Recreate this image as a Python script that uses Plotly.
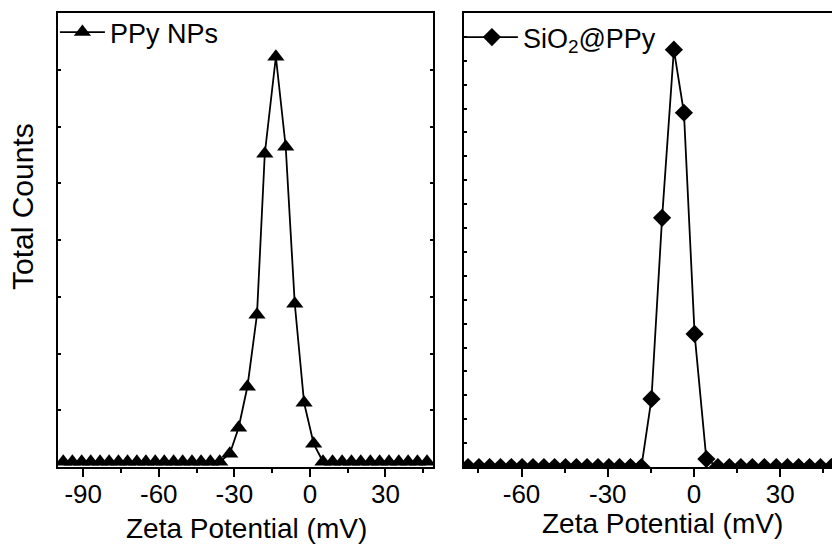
import plotly.graph_objects as go

# ---- data ----
ppy_x = [-97.9, -94.3, -90.6, -87.0, -83.3, -79.7, -76.0, -72.4, -68.7, -65.1,
         -61.4, -57.8, -54.1, -50.5, -46.8, -43.2, -39.5, -35.8,
         -31.8, -28.3, -24.8, -21.0, -17.9, -13.5, -9.6, -6.0, -2.3, 1.5, 5.2,
         9.0, 12.8, 16.5, 20.2, 24.0, 27.7, 31.4, 35.3, 39.0, 42.7, 46.5]
ppy_y = [0, 0, 0, 0, 0, 0, 0, 0, 0, 0,
         0, 0, 0, 0, 0, 0, 0, 0,
         8, 34, 75, 147, 308, 405, 315, 158, 59, 18, 0,
         0, 0, 0, 0, 0, 0, 0, 0, 0, 0, 0]

sio2_x = [-78.6, -74.8, -71.1, -67.3, -63.5, -59.8, -56.0, -52.2, -48.5, -44.7,
          -40.9, -37.2, -33.4, -29.6, -25.9, -22.1, -18.3,
          -14.8, -11.1, -7.0, -3.5, 0.2, 4.3,
          8.3, 12.3, 16.3, 20.3, 24.5, 28.6, 32.5, 36.4, 40.2, 44.0, 47.8]
sio2_y = [0, 0, 0, 0, 0, 0, 0, 0, 0, 0,
          0, 0, 0, 0, 0, 0, 0,
          68, 249, 417, 354, 133, 8,
          0, 0, 0, 0, 0, 0, 0, 0, 0, 0, 0]

x_ticks = [-90, -60, -30, 0, 30]
x_ticktext = ["-90", "-60", "-30", "0", "30"]
x_minor = [-75, -45, -15, 15, 45]
x_title = "Zeta Potential (mV)"
y_title = "Total Counts"
name1 = "PPy NPs"
name2 = "SiO<sub>2</sub>@PPy"

FONT = "Liberation Sans, Arial, sans-serif"
W, H = 832, 544
ML, MR, MT, MB = 58, 0, 13, 77
PW = W - ML - MR
PH = H - MT - MB

def px2paper_x(px):
    return (px - ML) / PW

def px2paper_y(py):
    return (H - MB - py) / PH

fig = go.Figure()
fig.add_trace(go.Scatter(
    x=ppy_x, y=ppy_y, mode="lines+markers", name=name1,
    line=dict(color="black", width=1.8),
    marker=dict(symbol="triangle-up", size=15, color="black"),
    xaxis="x", yaxis="y", legend="legend"))
fig.add_trace(go.Scatter(
    x=sio2_x, y=sio2_y, mode="lines+markers", name=name2,
    line=dict(color="black", width=1.8),
    marker=dict(symbol="diamond", size=14, color="black"),
    xaxis="x2", yaxis="y2", legend="legend2"))

left_dom = [0, px2paper_x(433.3)]
right_dom = [px2paper_x(464), 1.0]

xcommon = dict(
    showgrid=False, zeroline=False, showline=True, linecolor="black", linewidth=2,
    mirror=True, ticks="outside", ticklen=8, tickwidth=2, tickcolor="black",
    tickmode="array", tickvals=x_ticks, ticktext=x_ticktext,
    ticklabelstandoff=-5,
    tickfont=dict(family=FONT, size=26, color="black"),
    minor=dict(ticks="outside", ticklen=4, tickwidth=2, tickcolor="black",
               tickmode="array", tickvals=x_minor),
)

yl_range = [-5.25, 448.75]
yr_range = [0, 453.7]

fig.update_layout(
    width=W, height=H,
    margin=dict(l=ML, r=MR, t=MT, b=MB, pad=0),
    paper_bgcolor="white", plot_bgcolor="white",
    xaxis=dict(domain=left_dom, range=[-100, 49], anchor="y", **xcommon),
    xaxis2=dict(domain=right_dom, range=[-80, 48], anchor="y2", **xcommon),
    yaxis=dict(range=yl_range, showgrid=False, zeroline=False, showline=True,
               linecolor="black", linewidth=2, mirror="ticks", ticks="inside",
               ticklen=3, tickwidth=1.5, tickcolor="black", showticklabels=False,
               tick0=yl_range[0], dtick=(yl_range[1] - yl_range[0]) / 8,
               anchor="x"),
    yaxis2=dict(range=yr_range, showgrid=False, zeroline=False, showline=True,
                linecolor="black", linewidth=2, mirror=False, ticks="inside",
                ticklen=3, tickwidth=1.5, tickcolor="black", showticklabels=False,
                tick0=0, dtick=(yr_range[1] - yr_range[0]) / 19,
                anchor="x2"),
    legend=dict(x=-0.004, y=1.011, xanchor="left", yanchor="top", bgcolor="rgba(0,0,0,0)",
                borderwidth=0, itemwidth=45,
                font=dict(family=FONT, size=27, color="black")),
    legend2=dict(x=right_dom[0] - 0.004, y=1, xanchor="left", yanchor="top",
                 bgcolor="rgba(0,0,0,0)", borderwidth=0, itemwidth=52,
                 font=dict(family=FONT, size=27, color="black")),
    showlegend=True,
    annotations=[
        dict(text=x_title, xref="paper", yref="paper",
             x=px2paper_x(246), y=px2paper_y(528), xanchor="center", yanchor="middle",
             showarrow=False, font=dict(family=FONT, size=28, color="black")),
        dict(text=x_title, xref="paper", yref="paper",
             x=px2paper_x(662.5), y=px2paper_y(523.5), xanchor="center", yanchor="middle",
             showarrow=False, font=dict(family=FONT, size=28, color="black")),
        dict(text=y_title, xref="paper", yref="paper", textangle=-90,
             x=px2paper_x(22), y=px2paper_y(207), xanchor="center", yanchor="middle",
             showarrow=False, font=dict(family=FONT, size=30, color="black")),
    ],
)

fig.write_html("out.html", config={"displayModeBar": False},
               post_script="document.body.style.margin='0';")
